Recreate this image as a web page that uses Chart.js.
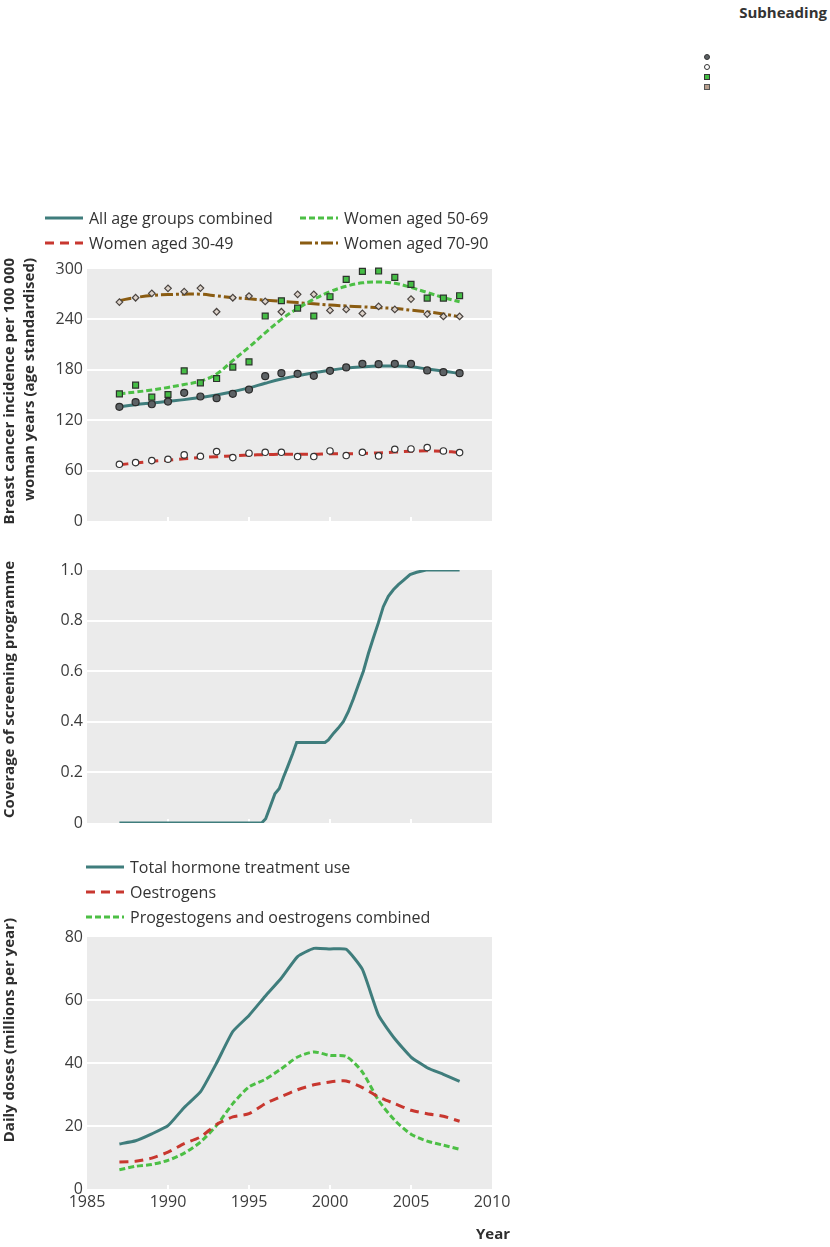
<!DOCTYPE html>
<html>
<head>
<meta charset="utf-8">
<script src="https://cdn.jsdelivr.net/npm/chart.js@4.4.1/dist/chart.umd.min.js"></script>
<style>
  html, body { margin: 0; padding: 0; background: #ffffff; }
  body { width: 830px; height: 1247px; position: relative; overflow: hidden; font-family: "Open Sans", sans-serif; }
  canvas { position: absolute; left: 0; }
  #subheading { position: absolute; right: 3px; top: 2px; font: bold 15px "Open Sans", sans-serif; color: #333; }
  .mk { position: absolute; box-sizing: border-box; width: 6px; height: 6px; left: 704px; border: 1px solid #333; }
</style>
</head>
<body>
<div id="subheading">Subheading</div>
<div class="mk" style="top:54px;border-radius:50%;background:#5d6265;"></div>
<div class="mk" style="top:64px;border-radius:50%;background:#ffffff;"></div>
<div class="mk" style="top:74px;background:#45bd45;"></div>
<div class="mk" style="top:84px;background:#b9a08f;border-color:#555;"></div>

<canvas id="incidence" width="520" height="340" style="top:200px"></canvas>
<canvas id="coverage" width="520" height="295" style="top:545px"></canvas>
<canvas id="doses" width="520" height="402" style="top:845px"></canvas>

<script>
// ---------- DATA ----------
const years = [1987, 1988, 1989, 1990, 1991, 1992, 1993, 1994, 1995, 1996, 1997,
               1998, 1999, 2000, 2001, 2002, 2003, 2004, 2005, 2006, 2007, 2008];

const allAgesObserved = [135.9, 141.4, 139.0, 142.2, 152.6, 148.2, 146.2, 151.4, 156.5, 172.4, 176.0,
                         175.2, 172.8, 178.8, 182.8, 187.1, 186.7, 187.1, 187.1, 179.2, 177.2, 176.0];
const allAgesTrend    = [136, 138.5, 140.5, 142.5, 144.5, 147, 150, 154, 158.5, 164, 169,
                         173, 176.5, 179.5, 182, 183.5, 184.5, 184.5, 183.5, 181, 178.5, 175.5];

const women3049Observed = [67.5, 69.5, 71.9, 73.5, 78.7, 77.1, 82.6, 75.5, 80.7, 81.8, 81.8,
                           76.7, 76.7, 83.4, 77.9, 81.8, 77.5, 85.4, 85.8, 87.4, 83.4, 81.4];
const women3049Trend    = [67, 69, 71, 72.5, 74, 75.5, 76.5, 77.5, 78.5, 79, 79.5,
                           79.5, 79.5, 80, 80, 80.5, 81, 82, 83, 83.5, 83, 81.5];

const women5069Observed = [151.4, 161.7, 147.4, 150.6, 178.8, 164.5, 169.6, 183.2, 189.5, 244.0, 262.2,
                           253.5, 244.0, 267.0, 287.6, 297.2, 297.6, 290.0, 281.7, 265.4, 265.4, 268.2];
const women5069Trend    = [151.5, 153.5, 156, 159, 162.5, 166.5, 175, 191, 207, 224, 240,
                           253, 264, 273, 279.5, 283.5, 284.5, 283, 278, 272, 266, 261];

const women7090Observed = [260.6, 265.8, 271.0, 277.0, 273.0, 277.3, 249.1, 265.8, 267.8, 261.4, 249.1,
                           269.8, 269.8, 250.7, 251.9, 247.1, 255.5, 251.9, 264.2, 246.3, 243.5, 243.5];
const women7090Trend    = [262.5, 266, 268.5, 269.5, 270, 270, 268, 266, 264.5, 263, 261.5,
                           260, 258.5, 257, 256, 255, 254, 253, 251, 249, 246.5, 243];

const coverageYears  = [1987, 1995.78, 1996.03, 1996.30, 1996.60, 1996.87, 1997.12, 1997.37, 1997.70, 1997.94,
                        1999.69, 1999.90, 2000.21, 2000.51, 2000.82, 2001.13, 2001.44, 2001.75, 2002.06, 2002.37,
                        2002.67, 2002.98, 2003.29, 2003.60, 2003.91, 2004.22, 2004.53, 2004.94, 2005.35, 2005.93, 2008.0];
const coverageValues = [0, 0, 0.017, 0.063, 0.116, 0.136, 0.18, 0.22, 0.275, 0.318,
                        0.318, 0.328, 0.354, 0.375, 0.40, 0.44, 0.49, 0.545, 0.60, 0.67,
                        0.73, 0.79, 0.855, 0.896, 0.922, 0.942, 0.959, 0.982, 0.991, 1.0, 1.0];

const totalHormoneUse   = [14.3, 15.3, 17.5, 20.1, 25.9, 30.8, 40.0, 50.0, 55.1, 61.2, 67.0,
                           73.8, 76.4, 76.2, 76.1, 69.7, 55.1, 47.7, 41.9, 38.5, 36.4, 34.2];
const oestrogens        = [8.6, 8.8, 9.8, 11.7, 14.4, 16.5, 20.5, 22.9, 23.9, 27.1, 29.4,
                           31.5, 33.1, 34.0, 34.3, 32.2, 29.2, 27.1, 25.0, 23.9, 23.1, 21.5];
const progestogensCombined = [6.1, 7.2, 7.8, 9.1, 11.4, 14.9, 20.2, 27.1, 32.4, 34.8, 38.2,
                              41.9, 43.5, 42.4, 42.1, 37.1, 28.1, 21.8, 17.4, 15.2, 13.9, 12.6];

const incidenceTicks = [0, 60, 120, 180, 240, 300];
const coverageTicks  = [0, 0.2, 0.4, 0.6, 0.8, 1.0];
const dosesTicks     = [0, 20, 40, 60, 80];
const yearTicks      = [1985, 1990, 1995, 2000, 2005, 2010];

// ---------- HELPERS ----------
const xy = (xs, ys) => xs.map((x, i) => ({ x: x, y: ys[i] }));

const TICK_FONT = { family: '"Open Sans", sans-serif', size: 16 };
const TICK_COLOR = '#3c3c3c';
const PANEL_BG = '#ebebeb';

const panelPlugin = {
  id: 'panel',
  beforeDraw(chart) {
    const { ctx, chartArea: a } = chart;
    ctx.save();
    ctx.fillStyle = PANEL_BG;
    ctx.fillRect(a.left, a.top, a.right - a.left, a.bottom - a.top);
    ctx.restore();
  },
  beforeDatasetsDraw(chart) {
    const { ctx, chartArea: a } = chart;
    const xs = chart.scales.x;
    ctx.save();
    ctx.strokeStyle = '#ffffff';
    ctx.lineWidth = 2;
    ctx.beginPath();
    yearTicks.forEach(v => {
      if (v > xs.min && v < xs.max) {
        const px = Math.round(xs.getPixelForValue(v));
        ctx.moveTo(px, a.bottom);
        ctx.lineTo(px, a.bottom - 4);
      }
    });
    ctx.stroke();
    ctx.restore();
  }
};

const placedLegend = {
  id: 'placedLegend',
  afterDraw(chart, args, opts) {
    if (!opts.items) return;
    const ctx = chart.ctx;
    ctx.save();
    ctx.font = opts.font;
    ctx.fillStyle = opts.color;
    ctx.textBaseline = 'middle';
    opts.items.forEach(it => {
      const ds = chart.data.datasets[it.dataset];
      ctx.beginPath();
      ctx.setLineDash(ds.borderDash || []);
      ctx.strokeStyle = ds.borderColor;
      ctx.lineWidth = ds.borderWidth;
      ctx.moveTo(it.x, it.y);
      ctx.lineTo(it.x + opts.sampleWidth, it.y);
      ctx.stroke();
      ctx.setLineDash([]);
      ctx.fillText(ds.label, it.x + opts.sampleWidth + opts.gap, it.y + 1);
    });
    ctx.restore();
  }
};

const axisTitle = {
  id: 'axisTitle',
  afterDraw(chart, args, opts) {
    if (!opts.lines) return;
    const ctx = chart.ctx;
    ctx.save();
    ctx.font = opts.font;
    ctx.fillStyle = opts.color;
    ctx.textBaseline = 'middle';
    ctx.textAlign = 'right';
    opts.lines.forEach((line, i) => {
      ctx.save();
      ctx.translate(opts.x[i], opts.yEnd);
      ctx.rotate(-Math.PI / 2);
      ctx.fillText(line, 0, 0);
      ctx.restore();
    });
    if (opts.xTitle) {
      ctx.textAlign = 'right';
      ctx.fillText(opts.xTitle.text, opts.xTitle.x, opts.xTitle.y);
    }
    ctx.restore();
  }
};

function yScale(ticksArr, fmt) {
  const min = ticksArr[0], max = ticksArr[ticksArr.length - 1];
  return {
    type: 'linear',
    min: min, max: max,
    afterBuildTicks: s => { s.ticks = ticksArr.map(v => ({ value: v })); },
    afterFit: s => { s.width = 87; },
    grid: {
      drawTicks: false,
      lineWidth: 2,
      color: c => (c.tick && (c.tick.value === min || c.tick.value === max)) ? 'rgba(0,0,0,0)' : '#ffffff'
    },
    border: { display: false },
    ticks: { padding: 4, font: TICK_FONT, color: TICK_COLOR, callback: fmt }
  };
}

function xScale(show) {
  return {
    type: 'linear',
    display: show,
    min: yearTicks[0], max: yearTicks[yearTicks.length - 1],
    afterBuildTicks: s => { s.ticks = yearTicks.map(v => ({ value: v })); },
    afterFit: s => { if (show) s.height = 30; },
    grid: { display: false, drawTicks: false },
    border: { display: false },
    ticks: { padding: 4, font: TICK_FONT, color: TICK_COLOR, maxRotation: 0, autoSkip: false,
             callback: v => String(v) }
  };
}

const baseOpts = {
  responsive: false,
  animation: false,
  events: [],
  plugins: { legend: { display: false }, tooltip: { enabled: false } }
};

const TITLE_FONT = 'bold 15px "Open Sans", sans-serif';
const LEGEND_FONT = '16px "Open Sans", sans-serif';

const TEAL = '#3f7d7c';
const RED = '#c8372f';
const GREEN = '#4cbf45';
const BROWN = '#8a5c12';

// ---------- CHART 1: incidence ----------
new Chart(document.getElementById('incidence'), {
  type: 'line',
  data: {
    datasets: [
      { label: 'All age groups combined (observed)', data: xy(years, allAgesObserved), showLine: false,
        pointStyle: 'circle', pointRadius: 3.5, pointBackgroundColor: '#5d6265', pointBorderColor: '#2b2b2b', pointBorderWidth: 1.2, clip: false },
      { label: 'Women aged 30-49 (observed)', data: xy(years, women3049Observed), showLine: false,
        pointStyle: 'circle', pointRadius: 3.2, pointBackgroundColor: '#ffffff', pointBorderColor: '#333333', pointBorderWidth: 1.2, clip: false },
      { label: 'Women aged 50-69 (observed)', data: xy(years, women5069Observed), showLine: false,
        pointStyle: 'rect', pointRadius: 4.2, pointBackgroundColor: '#45bd45', pointBorderColor: '#2d332d', pointBorderWidth: 1.2, clip: false },
      { label: 'Women aged 70-90 (observed)', data: xy(years, women7090Observed), showLine: false,
        pointStyle: 'rectRot', pointRadius: 3.3, pointBackgroundColor: '#ddd3ca', pointBorderColor: '#4a4440', pointBorderWidth: 1.2, clip: false },
      { label: 'All age groups combined', data: xy(years, allAgesTrend), borderColor: TEAL, borderWidth: 3,
        pointRadius: 0, tension: 0.4, fill: false },
      { label: 'Women aged 30-49', data: xy(years, women3049Trend), borderColor: RED, borderWidth: 3,
        borderDash: [9, 6], pointRadius: 0, tension: 0.4, fill: false },
      { label: 'Women aged 50-69', data: xy(years, women5069Trend), borderColor: GREEN, borderWidth: 3,
        borderDash: [6, 3], pointRadius: 0, tension: 0.4, fill: false },
      { label: 'Women aged 70-90', data: xy(years, women7090Trend), borderColor: BROWN, borderWidth: 3,
        borderDash: [12, 3, 3, 3], pointRadius: 0, tension: 0.4, fill: false }
    ]
  },
  options: Object.assign({}, baseOpts, {
    layout: { padding: { left: 0, right: 28, top: 69, bottom: 19 } },
    scales: { x: xScale(false), y: yScale(incidenceTicks, v => String(v)) },
    plugins: Object.assign({}, baseOpts.plugins, {
      placedLegend: {
        font: LEGEND_FONT, color: '#333333', sampleWidth: 38, gap: 6,
        items: [
          { dataset: 4, x: 45, y: 18 }, { dataset: 6, x: 300, y: 18 },
          { dataset: 5, x: 45, y: 43 }, { dataset: 7, x: 300, y: 43 }
        ]
      },
      axisTitle: {
        font: TITLE_FONT, color: '#2e2e2e', x: [9.5, 29.5], yEnd: 58,
        lines: ['Breast cancer incidence per 100 000', 'woman years (age standardised)']
      }
    })
  }),
  plugins: [panelPlugin, placedLegend, axisTitle]
});

// ---------- CHART 2: coverage ----------
new Chart(document.getElementById('coverage'), {
  type: 'line',
  data: {
    datasets: [
      { label: 'Coverage of screening programme', data: xy(coverageYears, coverageValues), borderColor: TEAL,
        borderWidth: 3, pointRadius: 0, tension: 0, fill: false }
    ]
  },
  options: Object.assign({}, baseOpts, {
    layout: { padding: { left: 0, right: 28, top: 25, bottom: 17 } },
    scales: { x: xScale(false), y: yScale(coverageTicks, v => v === 0 ? '0' : v.toFixed(1)) },
    plugins: Object.assign({}, baseOpts.plugins, {
      axisTitle: {
        font: TITLE_FONT, color: '#2e2e2e', x: [10], yEnd: 16,
        lines: ['Coverage of screening programme']
      }
    })
  }),
  plugins: [panelPlugin, axisTitle]
});

// ---------- CHART 3: doses ----------
new Chart(document.getElementById('doses'), {
  type: 'line',
  data: {
    datasets: [
      { label: 'Total hormone treatment use', data: xy(years, totalHormoneUse), borderColor: TEAL,
        borderWidth: 3, pointRadius: 0, tension: 0.15, fill: false },
      { label: 'Oestrogens', data: xy(years, oestrogens), borderColor: RED, borderWidth: 3,
        borderDash: [9, 6], pointRadius: 0, tension: 0.2, fill: false },
      { label: 'Progestogens and oestrogens combined', data: xy(years, progestogensCombined), borderColor: GREEN,
        borderWidth: 3, borderDash: [6, 3], pointRadius: 0, tension: 0.25, fill: false }
    ]
  },
  options: Object.assign({}, baseOpts, {
    layout: { padding: { left: 0, right: 28, top: 92, bottom: 28 } },
    scales: { x: xScale(true), y: yScale(dosesTicks, v => String(v)) },
    plugins: Object.assign({}, baseOpts.plugins, {
      placedLegend: {
        font: LEGEND_FONT, color: '#333333', sampleWidth: 38, gap: 6,
        items: [
          { dataset: 0, x: 86, y: 22 }, { dataset: 1, x: 86, y: 47 }, { dataset: 2, x: 86, y: 72 }
        ]
      },
      axisTitle: {
        font: TITLE_FONT, color: '#2e2e2e', x: [10], yEnd: 73,
        lines: ['Daily doses (millions per year)'],
        xTitle: { text: 'Year', x: 510, y: 390 }
      }
    })
  }),
  plugins: [panelPlugin, placedLegend, axisTitle]
});
</script>
</body>
</html>
